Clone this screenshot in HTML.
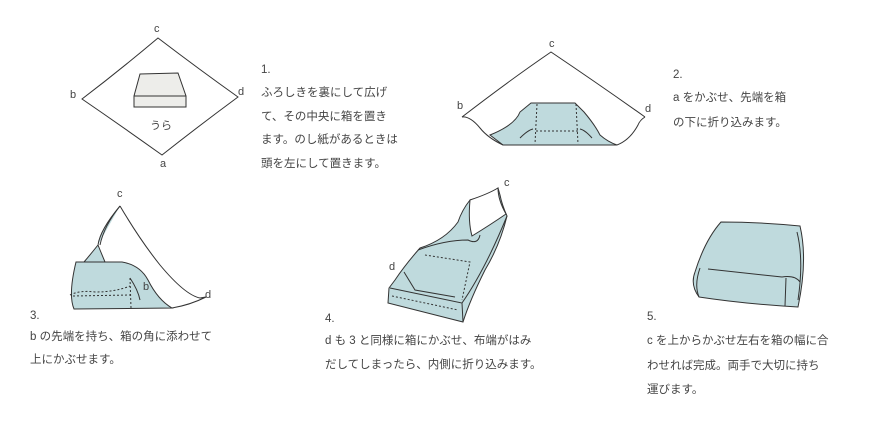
<!DOCTYPE html>
<html><head><meta charset="utf-8"><style>
html,body{margin:0;padding:0;background:#fff;}
svg{display:block;}
text{font-family:"Liberation Sans","Noto Sans CJK JP",sans-serif;fill:#444;font-size:11.5px;}
.l{font-size:11px;}
</style></head><body>
<svg width="885" height="422" viewBox="0 0 885 422" xmlns="http://www.w3.org/2000/svg">
<g fill="none" stroke="#333" stroke-width="1">
<!-- step1 -->
<path d="M158,38 Q200,70 238,97 Q200,125 162,155 Q120,125 82,99 Q120,70 158,38 Z" fill="#fff"/>
<path d="M140,74 L178,73 L186,96 L186,107 L134,107 L134,96 Z" fill="#ededea"/>
<path d="M134,96 L186,96"/>
<!-- step2 -->
<path d="M462,117 Q510,80 551,52 Q600,85 645,117"/>
<path d="M490,135 Q515,125 520,112 L531,103 L575,103 L584,112 Q595,125 600,135 Q608,142 617,145 L503,145 Z" fill="#bfdadd"/>
<path d="M462,117 Q470,116 480,128 Q488,138 503,145 M617,145 Q630,140 638,125 Q640,120 645,117"/>
<path d="M537,104 L535,144 M576,104 L578,144 M536,131 L578,131" stroke-dasharray="2,2"/>
<path d="M520,138 Q528,130 533,129 M592,138 Q585,130 580,129"/>
<!-- step3 -->
<path d="M120,206 Q100,230 98,245 Q90,255 84,262 L105,262 Q100,250 98,245" fill="#bfdadd"/>
<path d="M120,206 Q140,240 160,265 Q185,295 200,298 L206,297 Q190,305 172,308"/>
<path d="M120,206 Q104,226 100,245"/>
<path d="M76,262 L122,262 Q140,265 148,280 Q158,300 172,308 L74,309 Q68,295 76,262 Z" fill="#bfdadd"/>
<path d="M70,295 Q80,290 95,292 Q115,292 130,286 M73,296 L130,295 M130,278 L131,308" stroke-dasharray="2,2"/>
<path d="M130,278 Q138,290 140,300"/>
<!-- step4 -->
<path d="M498,188 Q490,194 470,200 Q462,210 458,222 Q445,240 420,248 Q405,265 395,280 L389,288 L388,303 L463,322 Q470,300 485,270 Q500,245 507,216 Q502,205 500,195 Z" fill="#bfdadd"/>
<path d="M470,200 Q468,222 472,236 Q490,225 506,214 Q498,200 498,188 Q488,194 470,200 Z" fill="#fff"/>
<path d="M390,288 L462,303 L463,322 M462,303 Q485,270 507,216 M404,272 L415,290 L455,297 M418,250 Q445,240 468,240 Q478,245 480,235"/>
<path d="M392,296 L458,310 M425,255 L470,262 L462,300" stroke-dasharray="2,2"/>
<!-- step5 -->
<path d="M721,222 Q760,222 800,226 Q808,260 798,307 Q745,304 699,297 Q690,285 695,272 Q705,240 721,222 Z" fill="#bfdadd"/>
<path d="M708,269 L782,277 M782,277 Q795,275 800,282 M786,278 L785,306 M700,268 Q694,285 699,297 M797,232 Q804,260 798,300"/>
</g>
<g>
<text class="l" x="154" y="32">c</text><text class="l" x="70" y="98">b</text><text class="l" x="238" y="95">d</text><text class="l" x="160" y="167">a</text>
<text class="l" x="150" y="129">うら</text>
<text x="261" y="73">1.</text>
<text x="261" y="96">ふろしきを裏にして広げ</text>
<text x="261" y="120">て、その中央に箱を置き</text>
<text x="261" y="143">ます。のし紙があるときは</text>
<text x="261" y="167">頭を左にして置きます。</text>
<text class="l" x="549" y="47">c</text><text class="l" x="457" y="109">b</text><text class="l" x="645" y="112">d</text>
<text x="673" y="78">2.</text>
<text x="673" y="101">a をかぶせ、先端を箱</text>
<text x="673" y="126">の下に折り込みます。</text>
<text class="l" x="117" y="197">c</text><text class="l" x="143" y="290">b</text><text class="l" x="205" y="298">d</text>
<text x="30" y="319">3.</text>
<text x="30" y="340">b の先端を持ち、箱の角に添わせて</text>
<text x="30" y="363">上にかぶせます。</text>
<text class="l" x="504" y="186">c</text><text class="l" x="389" y="270">d</text>
<text x="325" y="322">4.</text>
<text x="325" y="344">d も 3 と同様に箱にかぶせ、布端がはみ</text>
<text x="325" y="368">だしてしまったら、内側に折り込みます。</text>
<text x="647" y="320">5.</text>
<text x="647" y="344">c を上からかぶせ左右を箱の幅に合</text>
<text x="647" y="369">わせれば完成。両手で大切に持ち</text>
<text x="647" y="393">運びます。</text>
</g>
</svg>
</body></html>
